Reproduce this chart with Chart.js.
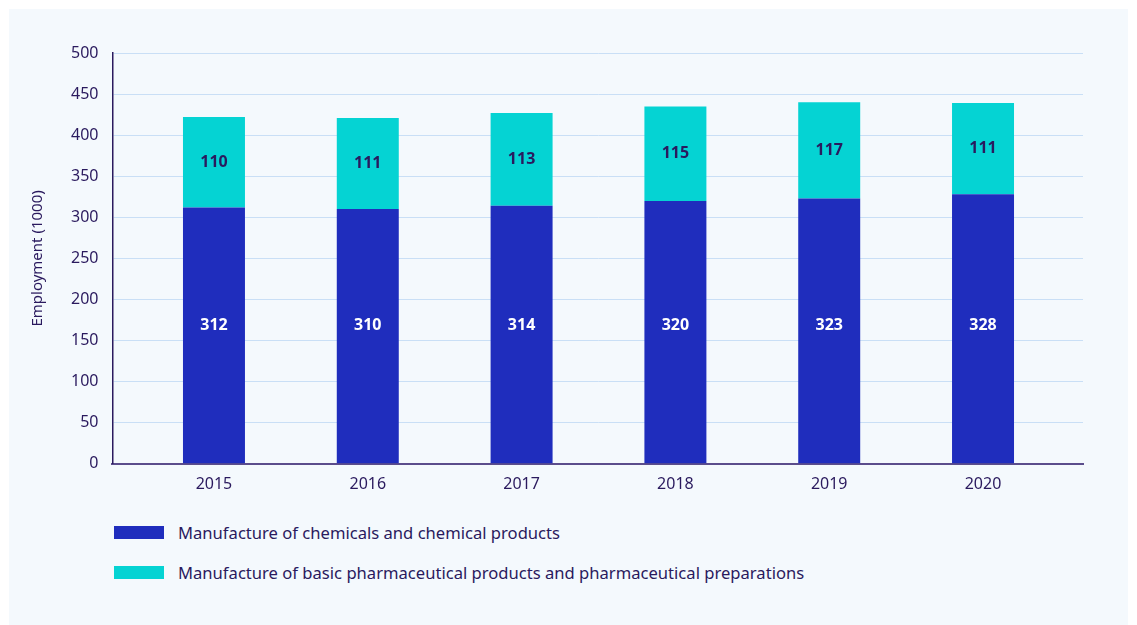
<!DOCTYPE html>
<html>
<head>
<meta charset="utf-8">
<script src="https://cdn.jsdelivr.net/npm/chart.js@4.4.0/dist/chart.umd.min.js"></script>
<style>
  html, body { margin: 0; padding: 0; background: #ffffff; }
  body { width: 1137px; height: 625px; position: relative; overflow: hidden; font-family: "Noto Sans", "Open Sans", sans-serif; }
  #panel { position: absolute; left: 9px; top: 9px; width: 1119px; height: 630px; background: #f4f9fd; }
  #chart-wrap { position: absolute; left: 0; top: 0; width: 1137px; height: 505px; }
  #legend { position: absolute; left: 114px; top: 519px; color: #2a1a5e; font-size: 16.6px; }
  .item { display: flex; align-items: center; height: 26px; margin-bottom: 14px; }
  .swatch { width: 50px; height: 13px; margin-right: 14px; }
</style>
</head>
<body>
<div id="panel"></div>
<div id="chart-wrap"><canvas id="employment-chart"></canvas></div>
<div id="legend"></div>
<script>
const years = ['2015', '2016', '2017', '2018', '2019', '2020'];
const chemicals = [312, 310, 314, 320, 323, 328];
const pharma = [110, 111, 113, 115, 117, 111];
const seriesNames = [
  'Manufacture of chemicals and chemical products',
  'Manufacture of basic pharmaceutical products and pharmaceutical preparations'
];
const seriesColors = ['#1f2dbd', '#05d3d3'];
const labelColors = ['#ffffff', '#2a1a5e'];

const textColor = '#2a1a5e';

// year index on a numeric x axis, so the outer margins can be wider than half a slot
function toPoints(values) {
  return values.map(function(v, i) { return { x: i, y: v }; });
}

// value labels: bottom series sits on one shared line, top series centred in its segment
const barValues = {
  id: 'barValues',
  afterDatasetsDraw(chart) {
    const ctx = chart.ctx;
    const area = chart.chartArea;
    const baseLine = area.bottom - (area.bottom - area.top) * 0.336;
    ctx.save();
    ctx.font = 'bold 16px "Noto Sans", sans-serif';
    ctx.textAlign = 'center';
    ctx.textBaseline = 'middle';
    chart.data.datasets.forEach(function(ds, i) {
      const meta = chart.getDatasetMeta(i);
      ctx.fillStyle = labelColors[i];
      meta.data.forEach(function(bar, j) {
        const p = bar.getProps(['x', 'y', 'base'], true);
        const y = i === 0 ? baseLine : (p.y + p.base) / 2;
        ctx.fillText(ds.data[j].y, p.x, y);
      });
    });
    ctx.restore();
  }
};

const ctx = document.getElementById('employment-chart').getContext('2d');
const employmentChart = new Chart(ctx, {
  type: 'bar',
  data: {
    datasets: [
      { label: seriesNames[0], data: toPoints(chemicals), backgroundColor: seriesColors[0] },
      { label: seriesNames[1], data: toPoints(pharma), backgroundColor: seriesColors[1] }
    ]
  },
  options: {
    responsive: true,
    maintainAspectRatio: false,
    animation: false,
    layout: { padding: { left: 25, right: 54, top: 53, bottom: 0 } },
    categoryPercentage: 1,
    barPercentage: 0.403,
    plugins: {
      legend: { display: false },
      tooltip: { enabled: false }
    },
    scales: {
      x: {
        type: 'linear',
        stacked: true,
        min: -0.66,
        max: 5.65,
        offset: false,
        afterBuildTicks: function(scale) {
          scale.ticks = years.map(function(_, i) { return { value: i }; });
        },
        grid: { display: false, drawTicks: false },
        border: { color: '#5b4d8c', width: 2 },
        ticks: {
          color: textColor,
          font: { family: '"Noto Sans", sans-serif', size: 16 },
          padding: 11,
          callback: function(value) { return years[value]; }
        }
      },
      y: {
        stacked: true,
        min: 0,
        max: 500,
        grid: { color: '#c9dff6', drawTicks: false },
        border: { color: textColor, width: 1.5 },
        ticks: { stepSize: 50, color: textColor, font: { family: '"Noto Sans", sans-serif', size: 16 }, padding: 14 },
        title: { display: true, text: 'Employment (1000)', color: textColor, font: { family: '"Noto Sans", sans-serif', size: 15 }, padding: { bottom: 10 } }
      }
    }
  },
  plugins: [barValues]
});

// legend stacked below the chart
const legend = document.getElementById('legend');
seriesNames.forEach(function(name, i) {
  const item = document.createElement('div');
  item.className = 'item';
  const sw = document.createElement('span');
  sw.className = 'swatch';
  sw.style.background = seriesColors[i];
  const txt = document.createElement('span');
  txt.textContent = name;
  item.appendChild(sw);
  item.appendChild(txt);
  legend.appendChild(item);
});
</script>
</body>
</html>
